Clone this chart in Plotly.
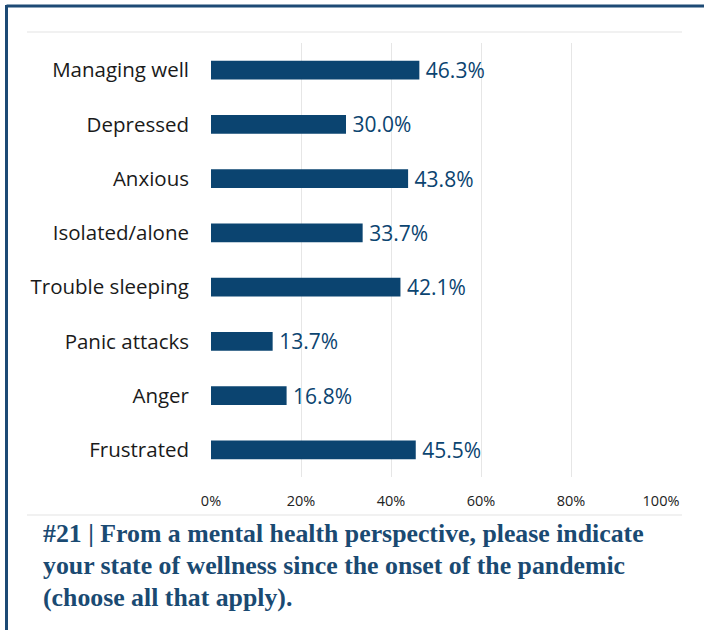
import plotly.graph_objects as go

# Survey responses (share of respondents, %)
categories = ["Managing well", "Depressed", "Anxious", "Isolated/alone",
              "Trouble sleeping", "Panic attacks", "Anger", "Frustrated"]
values = [46.3, 30.0, 43.8, 33.7, 42.1, 13.7, 16.8, 45.5]
x_ticks = [0, 20, 40, 60, 80, 100]
x_tick_labels = ["0%", "20%", "40%", "60%", "80%", "100%"]
title_lines = [
    "#21 | From a mental health perspective, please indicate",
    "your state of wellness since the onset of the pandemic",
    "(choose all that apply).",
]

BAR = "#0b4470"
FRAME = "#1d4a75"
W, H = 704, 630
L, R, T, B = 211, 43, 43, 153

fig = go.Figure(go.Bar(
    x=values,
    y=categories,
    orientation="h",
    width=0.35,
    marker=dict(color=BAR, line=dict(width=0)),
    text=[f"\u2009{v:.1f}%" for v in values],
    textposition="outside",
    constraintext="none",
    textfont=dict(family="Open Sans", size=21, color=BAR),
    cliponaxis=False,
    hoverinfo="skip",
))

fig.update_xaxes(
    range=[0, 100],
    tickvals=x_ticks,
    ticktext=x_tick_labels,
    showgrid=True,
    gridcolor="#e6e6e6",
    gridwidth=1,
    zeroline=False,
    showline=False,
    ticks="",
    ticklabelstandoff=13,
    tickfont=dict(family="Open Sans", size=14.5, color="#222222"),
    fixedrange=True,
)
fig.update_yaxes(
    categoryorder="array",
    categoryarray=categories,
    autorange="reversed",
    showgrid=False,
    zeroline=False,
    showline=False,
    ticks="",
    ticklabelstandoff=21,
    tickfont=dict(family="Open Sans", size=20.5, color="#1a1a1a"),
    fixedrange=True,
)

PW, PH = W - L - R, H - T - B


def px_x(x):
    return (x - L) / PW


def px_y(y):
    return (H - B - y) / PH


shapes = [
    # dark frame on top and left edges
    dict(type="line", xref="paper", yref="paper",
         x0=px_x(6.5), x1=px_x(W), y0=px_y(6), y1=px_y(6),
         line=dict(color=FRAME, width=3)),
    dict(type="line", xref="paper", yref="paper",
         x0=px_x(6.5), x1=px_x(6.5), y0=px_y(5), y1=px_y(H),
         line=dict(color=FRAME, width=3)),
    # thin light rules above and below the chart area
    dict(type="line", xref="paper", yref="paper",
         x0=px_x(27), x1=px_x(682), y0=px_y(32), y1=px_y(32),
         line=dict(color="#e3e3e3", width=1.2)),
    dict(type="line", xref="paper", yref="paper",
         x0=px_x(27), x1=px_x(682), y0=px_y(515), y1=px_y(515),
         line=dict(color="#e3e3e3", width=1.2)),
]

annotations = []
for i, line in enumerate(title_lines):
    annotations.append(dict(
        text=f"<b>{line}</b>",
        xref="paper", yref="paper",
        x=px_x(41), xanchor="left",
        y=px_y(533 + 32 * i), yanchor="middle",
        showarrow=False,
        font=dict(family="Liberation Serif", size=25.8, color="#1a4a72"),
    ))

fig.update_layout(
    width=W, height=H,
    margin=dict(l=L, r=R, t=T, b=B, pad=0),
    paper_bgcolor="white",
    plot_bgcolor="white",
    showlegend=False,
    shapes=shapes,
    annotations=annotations,
)

fig.write_html("out.html", config={"displayModeBar": False})
